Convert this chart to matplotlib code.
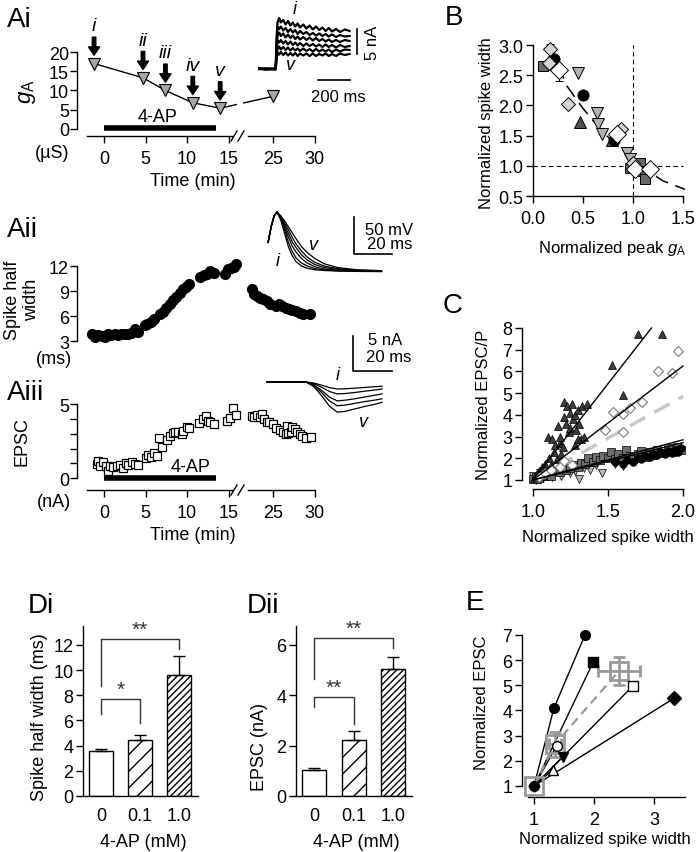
import numpy as np
import matplotlib
matplotlib.use('Agg')
import matplotlib.pyplot as plt
from matplotlib.lines import Line2D

plt.rcParams['font.family'] = ['Liberation Sans', 'DejaVu Sans']
plt.rcParams['mathtext.fontset'] = 'custom'
plt.rcParams['mathtext.it'] = 'Liberation Sans:italic'
plt.rcParams['mathtext.rm'] = 'Liberation Sans'
plt.rcParams['axes.linewidth'] = 1.0
plt.rcParams['hatch.linewidth'] = 1.0

# ---------------- data ----------------
# Ai: peak gA over time (min)
ai_t = [-1.2, 4.7, 7.4, 10.7, 14.0, 25.0]
ai_g = [17.0, 13.3, 10.0, 6.8, 5.4, 8.5]
ai_marks = ['i', 'ii', 'iii', 'iv', 'v']

# Ai inset: A-currents (ms, nA)
ga_time = [-106, -60, -10, -2, 4, 10, 20, 30, 45, 60, 75, 90, 105, 120, 135,
           150, 170, 190, 210, 230, 250, 270, 290, 310, 330, 350, 375, 400, 430, 460]
ga_traces = [
    [0.1, -0.1, 0.1, 0, 6.5, 9.4, 10.2, 9.3, 9.8, 8.9, 9.6, 8.7, 9.3, 8.5, 9.1,
     8.3, 8.9, 8.1, 8.7, 7.9, 8.5, 7.8, 8.3, 7.6, 8.2, 7.5, 8.0, 7.4, 7.9, 7.6],
    [0, 0.1, -0.1, 0, 5.6, 8.4, 8.0, 8.5, 7.7, 8.2, 7.4, 8.0, 7.3, 7.8, 7.0,
     7.6, 7.0, 7.4, 6.8, 7.2, 6.7, 7.1, 6.6, 7.0, 6.5, 6.9, 6.4, 6.8, 6.5, 6.6],
    [0.1, 0, 0.1, 0, 4.7, 6.7, 7.3, 6.6, 7.1, 6.3, 6.9, 6.2, 6.7, 6.0, 6.5,
     5.9, 6.4, 5.8, 6.3, 5.7, 6.2, 5.6, 6.0, 5.5, 5.9, 5.4, 5.8, 5.4, 5.8, 5.6],
    [0, -0.1, 0, 0.1, 3.8, 5.7, 5.3, 5.8, 5.1, 5.6, 4.9, 5.5, 4.8, 5.3, 4.7,
     5.2, 4.6, 5.1, 4.6, 5.0, 4.5, 4.9, 4.4, 4.9, 4.4, 4.8, 4.3, 4.8, 4.4, 4.6],
    [0.1, 0, 0, 0, 2.9, 4.1, 4.5, 3.9, 4.4, 3.8, 4.3, 3.7, 4.2, 3.7, 4.1,
     3.6, 4.1, 3.6, 4.0, 3.5, 4.0, 3.5, 3.9, 3.5, 3.9, 3.4, 3.9, 3.5, 3.9, 3.8],
    [0, 0.1, 0, -0.1, 2.1, 3.3, 2.9, 3.4, 2.8, 3.3, 2.7, 3.2, 2.7, 3.2, 2.6,
     3.1, 2.7, 3.1, 2.6, 3.1, 2.6, 3.0, 2.7, 3.1, 2.6, 3.0, 2.6, 3.1, 2.8, 3.0],
]

# Aii: spike half width (ms)
aii_t = [-1.5, -1.1, -0.7, -0.3, 0.1, 0.5, 0.9, 1.3, 1.7, 2.1, 2.5, 2.9, 3.3, 3.7, 4.1,
         4.9, 5.2, 5.7, 6.0, 6.7, 7.1, 7.5, 7.9, 8.3, 8.7, 9.1, 9.5, 9.9, 10.2,
         11.6, 12.0, 12.4, 12.8, 13.2,
         14.6, 14.9, 15.3, 15.7, 15.95,
         22.4, 22.7, 23.0, 23.4, 23.8, 24.2, 24.6, 25.3, 25.7, 26.1, 26.5, 26.9, 27.3, 27.7, 28.2, 28.6, 29.4]
aii_w = [3.8, 3.5, 3.7, 3.6, 3.45, 3.8, 3.7, 3.9, 3.75, 3.8, 3.85, 3.9, 4.0, 4.4, 4.1,
         4.9, 5.0, 5.3, 5.7, 6.2, 6.5, 7.0, 7.4, 7.9, 8.3, 8.8, 9.2, 9.5, 9.8,
         10.7, 10.9, 11.0, 11.4, 11.2,
         11.1, 11.6, 11.8, 11.9, 12.2,
         9.2, 8.7, 8.4, 8.2, 8.0, 7.8, 7.5, 7.2, 7.4, 7.2, 7.0, 6.8, 6.7, 6.6, 6.4, 6.3, 6.3]

# Aii inset: action potentials (ms, mV above rest)
ap_time = [-4.7, -3, -1.5, 0, 2, 4, 6, 8, 10, 13, 16, 20, 25, 32, 42, 55]
ap_traces = [
    [40, 62, 76, 81, 70, 52, 34, 22, 14, 8, 5, 3, 2, 1.2, 0.8, 0.5],
    [40, 62, 76, 81, 72, 57, 40, 28, 19, 12, 8, 4.5, 2.8, 1.8, 1.2, 0.8],
    [40, 62, 76, 81, 73, 60, 47, 35, 27, 18, 12, 7, 4, 2.5, 1.6, 1.0],
    [40, 62, 76, 81, 74, 63, 52, 41, 33, 23, 16, 10, 6, 3.5, 2.0, 1.3],
    [40, 62, 76, 81, 75, 66, 57, 47, 38, 28, 20, 13, 8, 4.5, 2.5, 1.5],
    [40, 62, 76, 81, 76, 69, 61, 53, 45, 34, 26, 18, 11, 6, 3.0, 1.8],
]

# Aiii: EPSC amplitude (nA)
aiii_t = [-0.88, -0.68, -0.48, -0.08, 0.24, 0.52, 0.72, 1.12, 1.53, 1.93, 2.33, 2.65, 2.93, 3.33, 3.73, 4.13,
          5.06, 5.34, 5.62, 6.02, 6.35, 6.63, 6.95, 7.55, 7.95, 8.27, 8.55, 8.96, 9.36, 9.56, 9.96, 10.24,
          11.49, 11.97, 12.29, 12.57, 12.77, 13.25,
          14.78, 15.18, 15.58, 15.9,
          22.4, 22.67, 22.99, 23.4, 23.6, 23.88, 24.2, 24.52, 24.93, 25.33, 25.8, 26.2, 26.53, 26.69,
          26.8, 27.1, 27.3, 27.6, 27.9, 28.2, 28.5, 28.9, 29.5]
aiii_e = [0.96, 1.19, 0.8, 1.08, 0.8, 0.5, 0.8, 0.74, 0.8, 0.9, 0.67, 1.03, 0.9, 1.12, 0.96, 0.9,
          1.35, 1.57, 1.41, 1.7, 1.52, 2.69, 2.09, 2.58, 2.87, 3.05, 3.14, 3.09, 2.98, 3.2, 3.43, 3.36,
          3.72, 3.99, 4.17, 3.88, 3.77, 3.65,
          3.88, 4.04, 4.71, 4.26,
          4.2, 4.1, 4.26, 4.1, 4.33, 3.99, 3.77, 3.81, 3.65, 3.36, 3.27, 3.09, 2.98, 3.54,
          3.05, 3.09, 3.43, 3.32, 3.14, 2.98, 2.83, 2.69, 2.76]

# Aiii inset: EPSCs (ms, nA)
epsc_time = [0, 10, 20, 24, 28, 32, 36, 40, 45, 50, 55, 59]
epsc_traces = [
    [0, 0, 0, -0.15, -0.45, -0.8, -1.0, -0.97, -0.88, -0.78, -0.68, -0.6],
    [0, 0, 0, -0.25, -0.75, -1.35, -1.7, -1.65, -1.5, -1.32, -1.15, -1.0],
    [0, 0, 0, -0.4, -1.2, -2.15, -2.7, -2.6, -2.4, -2.15, -1.9, -1.7],
    [0, 0, 0, -0.5, -1.5, -2.7, -3.4, -3.3, -3.05, -2.8, -2.6, -2.4],
    [0, 0, 0, -0.65, -1.95, -3.45, -4.3, -4.2, -3.85, -3.5, -3.2, -2.9],
]

# B: normalized spike width vs normalized peak gA
b_circ_x = [0.21, 0.50, 0.81]
b_circ_y = [2.77, 2.17, 1.42]
b_tup_x = [0.19, 0.47, 0.79, 1.01]
b_tup_y = [2.84, 1.72, 1.43, 1.00]
b_sq_x = [0.10, 0.97, 1.07, 1.10, 1.12]
b_sq_y = [2.66, 0.97, 1.05, 0.91, 0.78]
b_tdn_x = [0.45, 0.64, 0.65, 0.69, 0.94, 0.97]
b_tdn_y = [2.53, 1.88, 1.70, 1.52, 1.22, 1.11]
b_dlt_x = [0.17, 0.16, 0.35, 0.88, 1.00]
b_dlt_y = [2.94, 2.71, 2.03, 1.61, 1.05]
b_dlt_err = [0.08, 0, 0, 0, 0]
b_dw_x = [0.26, 0.84, 1.02, 1.17]
b_dw_y = [2.59, 1.52, 0.94, 0.94]
b_dw_err = [0.19, 0, 0, 0]
b_fit_x = [0.17, 0.34, 0.50, 0.70, 0.94, 1.07, 1.30, 1.52]
b_fit_y = [2.98, 2.32, 1.95, 1.55, 1.20, 1.00, 0.75, 0.61]

# C: normalized EPSC/P vs normalized spike width
c_tup_x = [1.01, 1.02, 1.03, 1.04, 1.05, 1.06, 1.07, 1.08, 1.08, 1.10, 1.11, 1.12, 1.13, 1.14, 1.15,
           1.16, 1.17, 1.18, 1.18, 1.19, 1.20, 1.21, 1.21, 1.22, 1.23, 1.24, 1.25, 1.25, 1.26, 1.27,
           1.28, 1.28, 1.29, 1.30, 1.30, 1.31, 1.32, 1.33, 1.34, 1.36, 1.53, 1.60, 1.70, 1.86]
c_tup_y = [1.1, 1.25, 1.05, 1.4, 1.3, 1.6, 1.2, 1.75, 1.5, 3.0, 2.0, 1.7, 2.9, 2.3, 2.6,
           1.95, 3.5, 2.7, 3.0, 2.2, 2.5, 4.6, 3.9, 3.6, 4.4, 3.2, 4.1, 3.4, 4.5, 3.8,
           2.6, 4.0, 3.3, 2.9, 4.2, 3.6, 2.9, 4.4, 3.0, 4.5, 6.3, 4.9, 7.7, 7.7]
c_dia_x = [1.04, 1.08, 1.12, 1.18, 1.21, 1.26, 1.48, 1.535, 1.60, 1.60, 1.65, 1.73, 1.835, 1.93, 1.97]
c_dia_y = [1.15, 1.3, 1.45, 1.6, 1.89, 1.7, 3.3, 4.15, 4.05, 3.2, 4.3, 4.6, 6.0, 5.93, 6.92]
c_sq_x = [1.0, 1.02, 1.04, 1.06, 1.08, 1.1, 1.12, 1.15, 1.18, 1.2, 1.22, 1.25, 1.28, 1.3, 1.32,
          1.35, 1.37, 1.4, 1.42, 1.45, 1.47, 1.5, 1.52, 1.55, 1.57, 1.6, 1.62, 1.65, 1.67, 1.7,
          1.72, 1.75, 1.78, 1.8, 1.83, 1.86, 1.9, 1.93, 1.96, 1.99]
c_sq_y = [1.05, 1.15, 1.1, 1.25, 1.2, 1.3, 1.2, 1.4, 1.35, 1.5, 1.45, 1.55, 1.7, 1.6, 1.8,
          1.75, 2.0, 1.85, 2.05, 1.9, 2.1, 2.0, 2.3, 1.95, 2.2, 2.0, 2.4, 2.1, 1.95, 2.2,
          2.35, 2.05, 2.3, 2.15, 2.4, 2.25, 2.45, 2.3, 2.5, 2.4]
c_tdn_x = [1.0, 1.02, 1.05, 1.07, 1.1, 1.13, 1.16, 1.19, 1.22, 1.25, 1.28, 1.31, 1.34, 1.38, 1.42, 1.46, 1.55, 1.6]
c_tdn_y = [1.2, 1.0, 1.3, 1.1, 1.35, 1.15, 1.4, 1.2, 1.5, 1.3, 1.4, 1.05, 1.55, 1.45, 1.7, 1.3, 1.75, 1.65]
c_circ_x = [1.55, 1.6, 1.63, 1.67, 1.7, 1.72, 1.75, 1.78, 1.8, 1.83, 1.85, 1.88, 1.9, 1.93, 1.95, 1.97, 1.99]
c_circ_y = [1.85, 1.75, 1.9, 1.85, 2.0, 1.95, 2.1, 2.05, 2.2, 2.15, 2.3, 2.2, 2.35, 2.25, 2.4, 2.3, 2.45]
c_fit_tri = ([1.0, 1.79], [1.0, 8.0])
c_fit_dia = ([1.0, 2.0], [1.0, 6.25])
c_fit_mean = ([1.0, 2.0], [1.0, 4.85])
c_fit_low = [([1.0, 2.0], [1.0, 2.85]), ([1.0, 2.0], [1.0, 2.72])]

# D: bar summaries
d_conc = ['0', '0.1', '1.0']
di_mean = [3.55, 4.45, 9.6]
di_err = [0.17, 0.4, 1.5]
dii_mean = [1.02, 2.23, 5.04]
dii_err = [0.08, 0.37, 0.46]

# E: normalized EPSC vs normalized spike width
e_cells = [
    ([1, 1.33, 1.85], [1, 4.08, 7.0], 'o', 'k'),
    ([1, 1.99], [1, 5.94], 's', 'k'),
    ([1, 1.38], [1, 2.59], 'o', 'w'),
    ([1, 2.65], [1, 4.98], 's', 'w'),
    ([1, 1.48], [1, 2.16], 'v', 'k'),
    ([1, 1.31], [1, 1.64], '^', 'w'),
    ([1, 3.33], [1, 4.48], 'D', 'k'),
]
e_mean_x = [1.0, 1.35, 2.42]
e_mean_y = [1.0, 2.66, 5.58]
e_mean_xerr = [0.0, 0.1, 0.35]
e_mean_yerr = [0.0, 0.5, 0.55]

# ---------------- layout helpers ----------------
W, H = 697, 853
fig = plt.figure(figsize=(W / 100, H / 100), dpi=100)


def place(xpx, ypx):
    # xpx = (left, right) pixels, ypx = (bottom, top) pixels from top of image
    return fig.add_axes([xpx[0] / W, 1 - ypx[0] / H,
                         (xpx[1] - xpx[0]) / W, (ypx[0] - ypx[1]) / H])


def ftext(x, y, s, **kw):
    fig.text(x / W, 1 - y / H, s, **kw)


def fline(xs, ys, **kw):
    fig.add_artist(Line2D([x / W for x in xs], [1 - y / H for y in ys], color='k', lw=1, **kw))


def style(ax, size=13):
    for s in ['top', 'right']:
        ax.spines[s].set_visible(False)
    ax.tick_params(direction='out', length=5, width=1, labelsize=size, pad=2)


def tfwd(t):
    return np.interp(t, [-100, 16, 21, 100], [-100, 16, 16.4, 95.4])


def tinv(u):
    return np.interp(u, [-100, 16, 16.4, 95.4], [-100, 16, 21, 100])


def upx(t):
    return 104 + 8.3 * tfwd(t)


def time_ax(ybot, ytop, ylim):
    ax = place((upx(-3.2), upx(31.0)), (ybot, ytop))
    ax.set_xscale('function', functions=(tfwd, tinv))
    ax.set_xlim(-3.2, 31.0)
    ax.set_ylim(ylim)
    style(ax)
    ax.spines['bottom'].set_visible(False)
    return ax


def time_xaxis(ax, yline):
    ax.set_xticks([0, 5, 10, 15, 25, 30])
    ax.set_xticklabels(['0', '5', '10', '15', '25', '30'])
    ax.tick_params(axis='x', pad=5)
    fline([upx(-2.1), upx(15.4)], [yline, yline])
    fline([upx(22.0), upx(30)], [yline, yline])
    for x0 in [231, 238]:
        fline([x0, x0 + 6], [yline + 5, yline - 5])
    ftext(193, yline + 44, 'Time (min)', ha='center', va='center', fontsize=13)


# ---------------- Ai ----------------
ax = time_ax(137, 53, (-1.82, 20))
ax.spines['left'].set_bounds(0, 20)
ax.set_yticks([0, 5, 10, 15, 20])
ax.tick_params(axis='y', pad=1)
ax.plot(ai_t, ai_g, color='k', lw=1, zorder=2)
ax.axvspan(16.0, 21.3, color='white', zorder=2.5, lw=0)
ax.plot(ai_t, ai_g, 'v', ms=8.5, mfc='#a6a6a6', mec='k', mew=0.8, zorder=3, clip_on=False)
for t, g, lab in zip(ai_t, ai_g, ai_marks):
    ax.annotate(lab, xy=(t, g), xytext=(0, 21), textcoords='offset points',
                ha='center', va='bottom', fontsize=14, style='italic',
                annotation_clip=False,
                arrowprops=dict(arrowstyle='simple,head_length=0.6,head_width=0.8,tail_width=0.25',
                                fc='k', ec='k', shrinkA=0, shrinkB=6, mutation_scale=10))
ax.plot([0, 13.5], [0.2, 0.2], color='k', lw=4, solid_capstyle='butt')
ax.text(6.4, 3.2, '4-AP', ha='center', va='center', fontsize=13)
time_xaxis(ax, 137)
ftext(27, 92, r'$g_{\mathrm{A}}$', rotation=90, ha='center', va='center', fontsize=16)
ftext(52, 153, '(µS)', ha='center', va='center', fontsize=13)

# Ai inset
ax = place((276 + 0.16 * -110, 276 + 0.16 * 520), (70 + 5 * 3.5, 70 - 5 * 11))
ax.set_xlim(-110, 520)
ax.set_ylim(-3.5, 11)
ax.axis('off')
for tr in ga_traces:
    ax.plot(ga_time, tr, color='k', lw=1.6)
ax.plot([506, 506], [3, 8], color='k', lw=1.2)
ax.plot([262, 462], [-2.2, -2.2], color='k', lw=1.2)
ax.text(606, 5.5, '5 nA', rotation=90, ha='center', va='center', fontsize=12, clip_on=False)
ax.text(388, -5.4, '200 ms', ha='center', va='center', fontsize=12, clip_on=False)
ax.text(119, 12.2, 'i', style='italic', ha='center', va='center', fontsize=13, clip_on=False)
ax.text(87, 1.0, 'v', style='italic', ha='center', va='center', fontsize=13)

# ---------------- Aii ----------------
ax = time_ax(347, 258.7, (2.4, 13))
ax.spines['left'].set_bounds(3, 12)
ax.set_yticks([3, 6, 9, 12])
ax.tick_params(axis='y', pad=1)
ax.tick_params(axis='x', bottom=False, labelbottom=False)
ax.plot(aii_t, aii_w, 'o', ms=7, color='k', clip_on=False)
ftext(22, 300, 'Spike half\nwidth', rotation=90, ha='center', va='center', fontsize=13, linespacing=1.1)
ftext(54, 360, '(ms)', ha='center', va='center', fontsize=13)

# Aii inset
ax = place((277 + 1.9 * -6, 277 + 1.9 * 62), (273 + 0.74 * 3, 273 - 0.74 * 85))
ax.set_xlim(-6, 62)
ax.set_ylim(-3, 85)
ax.axis('off')
for tr in ap_traces:
    ax.plot(ap_time, tr, color='k', lw=0.9)
ax.plot([40.5, 40.5, 60.5], [74.3, 24.3, 24.3], color='k', lw=1.2)
ax.text(46.3, 57, '50 mV', ha='left', va='center', fontsize=12)
ax.text(47.4, 39, '20 ms', ha='left', va='center', fontsize=12)
ax.text(18.9, 37.8, 'v', style='italic', ha='center', va='center', fontsize=13)
ax.text(0.5, 14.9, 'i', style='italic', ha='center', va='center', fontsize=13)

# ---------------- Aiii ----------------
ax = time_ax(491, 405, (-0.79, 5.0))
ax.spines['left'].set_bounds(0, 5)
ax.set_yticks([0, 1, 2, 3, 4, 5])
ax.set_yticklabels(['0', '', '', '', '', '5'])
ax.tick_params(axis='y', pad=1)
ax.plot(aiii_t, aiii_e, 's', ms=5.5, mfc='white', mec='k', mew=0.9, clip_on=False)
ax.plot([0, 13.5], [0, 0], color='k', lw=4, solid_capstyle='butt')
ax.text(10.4, 0.76, '4-AP', ha='center', va='center', fontsize=13)
time_xaxis(ax, 491)
ftext(22, 442, 'EPSC', rotation=90, ha='center', va='center', fontsize=13)
ftext(54, 503, '(nA)', ha='center', va='center', fontsize=13)

# Aiii inset
ax = place((267 + 1.95 * -2, 267 + 1.95 * 66), (383 + 7 * 6.5, 383 - 7 * 7))
ax.set_xlim(-2, 66)
ax.set_ylim(-6.5, 7)
ax.axis('off')
for tr in epsc_traces:
    ax.plot(epsc_time, tr, color='k', lw=0.9)
ax.plot([44.1, 44.1, 64.1], [6.57, 1.57, 1.57], color='k', lw=1.2)
ax.text(51.8, 6.1, '5 nA', ha='left', va='center', fontsize=12)
ax.text(50.8, 3.6, '20 ms', ha='left', va='center', fontsize=12)
ax.text(36.4, 1.14, 'i', style='italic', ha='center', va='center', fontsize=13)
ax.text(49.2, -5.7, 'v', style='italic', ha='center', va='center', fontsize=13)

ftext(7, 27, 'Ai', fontsize=20, va='baseline')
ftext(7, 237, 'Aii', fontsize=20, va='baseline')
ftext(7, 400, 'Aiii', fontsize=20, va='baseline')

# ---------------- B ----------------
ax = place((533, 688), (197, 43))
ax.set_xlim(0, 1.55)
ax.set_ylim(0.5, 3.05)
style(ax)
ax.spines['left'].set_bounds(0.5, 3.0)
ax.spines['bottom'].set_bounds(0, 1.5)
ax.set_xticks([0, 0.5, 1.0, 1.5])
ax.set_xticklabels(['0.0', '0.5', '1.0', '1.5'])
ax.set_yticks([0.5, 1.0, 1.5, 2.0, 2.5, 3.0])
ax.set_yticklabels(['0.5', '1.0', '1.5', '2.0', '2.5', '3.0'])
ax.tick_params(axis='x', pad=5)
ax.plot([1, 1], [0.5, 3.0], color='k', lw=0.8, ls=(0, (4, 3)))
ax.plot([0, 1.5], [1, 1], color='k', lw=0.8, ls=(0, (4, 3)))
ax.plot(b_fit_x, b_fit_y, color='k', lw=1.1, ls=(0, (9, 5)), clip_on=False)
mk = dict(mec='k', mew=0.7, ls='none', clip_on=False)
ax.plot(b_sq_x, b_sq_y, 's', ms=7, mfc='#6a6a6a', **mk)
ax.plot(b_tdn_x, b_tdn_y, 'v', ms=8, mfc='#b0b0b0', **mk)
ax.errorbar(b_dlt_x, b_dlt_y, yerr=[[0] * 5, b_dlt_err], fmt='D', ms=7, mfc='#d4d4d4',
            ecolor='k', elinewidth=0.8, capsize=3, mec='k', mew=0.7)
ax.plot(b_tup_x, b_tup_y, '^', ms=8, mfc='#505050', **mk)
ax.plot(b_circ_x, b_circ_y, 'o', ms=8, mfc='k', **mk)
ax.errorbar(b_dw_x, b_dw_y, yerr=[b_dw_err, [0] * 4], fmt='D', ms=9, mfc='white',
            ecolor='k', elinewidth=0.8, capsize=3, mec='k', mew=0.7)
ftext(487, 123, 'Normalized spike width', rotation=90, ha='center', va='center', fontsize=12)
ftext(612, 248, r'Normalized peak $g_{\mathrm{A}}$', ha='center', va='center', fontsize=12)
ftext(445, 25, 'B', fontsize=20, va='baseline')

# ---------------- C ----------------
ax = place((522, 686), (490, 326.8))
ax.set_xlim(0.927, 2.02)
ax.set_ylim(0.585, 8.1)
style(ax)
ax.spines['left'].set_bounds(1, 8)
ax.spines['bottom'].set_bounds(1, 2)
ax.set_xticks([1.0, 1.5, 2.0])
ax.set_xticklabels(['1.0', '1.5', '2.0'])
ax.set_yticks(range(1, 9))
ax.tick_params(axis='x', pad=5)
ax.plot(*c_fit_mean, color='#c8c8c8', lw=2.5, ls=(0, (5, 3)), zorder=1)
mk = dict(mec='k', mew=0.5, ls='none', clip_on=False)
ax.plot(c_tdn_x, c_tdn_y, 'v', ms=5.5, mfc='#b8b8b8', **mk)
ax.plot(c_sq_x, c_sq_y, 's', ms=5.5, mfc='#6e6e6e', **mk)
ax.plot(c_circ_x, c_circ_y, 'o', ms=5.5, mfc='k', **mk)
ax.plot(c_tup_x, c_tup_y, '^', ms=5.5, mfc='#3c3c3c', **mk)
ax.plot(c_dia_x, c_dia_y, 'D', ms=5, mfc='white', mec='#7a7a7a', mew=0.8, ls='none')
for fx, fy in [c_fit_tri, c_fit_dia] + c_fit_low:
    ax.plot(fx, fy, color='k', lw=1, zorder=3)
ftext(483, 405, 'Normalized EPSC/P', rotation=90, ha='center', va='center', fontsize=12)
ftext(608, 538, 'Normalized spike width', ha='center', va='center', fontsize=12)
ftext(443, 313, 'C', fontsize=20, va='baseline')


# ---------------- Di / Dii ----------------
def bar_panel(xpx, ylim, top, mean, err, yticks, sig):
    ax = place(xpx, (797, top))
    ax.set_xlim(-0.47, 2.49)
    ax.set_ylim(ylim)
    style(ax)
    bars = ax.bar([0, 1, 2], mean, width=0.615, color='white', edgecolor='k', lw=1)
    for b, h in zip(bars, ['', '//', '/////']):
        b.set_hatch(h)
    ax.errorbar([0, 1, 2], mean, yerr=[[0, 0, 0], err], fmt='none', ecolor='k',
                elinewidth=1, capsize=4, capthick=1)
    ax.set_xticks([0, 1, 2])
    ax.set_xticklabels(d_conc)
    ax.tick_params(axis='x', length=0, pad=8)
    ax.set_yticks(yticks)
    for xs, ys, lab in sig:
        ax.plot(xs, ys, color='#333333', lw=1, clip_on=False)
        ax.text((xs[0] + xs[-1]) / 2, ys[1], lab, ha='center', va='bottom', fontsize=15,
                color='#333333')
    return ax


bar_panel((83, 198), (0, 13.5), 627, di_mean, di_err, [0, 2, 4, 6, 8, 10, 12],
          [([0, 0, 2, 2], [8.7, 12.5, 12.5, 11.7], '**'),
           ([0, 0, 1, 1], [6.5, 7.7, 7.7, 5.8], '*')])
ftext(40, 717, 'Spike half width (ms)', rotation=90, ha='center', va='center', fontsize=13)
ftext(143, 843, '4-AP (mM)', ha='center', va='center', fontsize=13)
ftext(28, 613, 'Di', fontsize=20, va='baseline')

bar_panel((296, 412), (0, 6.75), 627, dii_mean, dii_err, [0, 2, 4, 6],
          [([0, 0, 2, 2], [4.64, 6.27, 6.27, 5.87], '**'),
           ([0, 0, 1, 1], [3.53, 3.93, 3.93, 2.86], '**')])
ftext(260, 747, 'EPSC (nA)', rotation=90, ha='center', va='center', fontsize=13)
ftext(356, 843, '4-AP (mM)', ha='center', va='center', fontsize=13)
ftext(247, 613, 'Dii', fontsize=20, va='baseline')

# ---------------- E ----------------
ax = place((522, 687), (798, 628.4))
ax.set_xlim(0.8, 3.55)
ax.set_ylim(0.563, 7.3)
style(ax)
ax.spines['left'].set_bounds(1, 7)
ax.spines['bottom'].set_bounds(0.9, 3.52)
ax.set_xticks([1, 2, 3])
ax.set_yticks(range(1, 8))
ax.tick_params(axis='x', pad=5)
for xs, ys, m, fc in e_cells:
    ax.plot(xs, ys, color='k', lw=1, zorder=2)
for xs, ys, m, fc in e_cells:
    ax.plot(xs[1:], ys[1:], m, ms=7, mfc=fc, mec='k', mew=1, zorder=4, clip_on=False)
ax.plot(e_mean_x, e_mean_y, color='#999999', lw=1.6, ls=(0, (4, 2.5)), zorder=3)
ax.errorbar(e_mean_x, e_mean_y, xerr=e_mean_xerr, yerr=e_mean_yerr, fmt='s', ms=13,
            mfc='none', mec='#999999', mew=2, ecolor='#999999', elinewidth=2,
            capsize=4, capthick=2, zorder=3)
ax.plot([1], [1], 'o', ms=7, mfc='k', mec='k', zorder=4)
ftext(482, 703, 'Normalized EPSC', rotation=90, ha='center', va='center', fontsize=12)
ftext(605, 840, 'Normalized spike width', ha='center', va='center', fontsize=12)
ftext(466, 610, 'E', fontsize=20, va='baseline')

fig.savefig('out.png', dpi=100)
